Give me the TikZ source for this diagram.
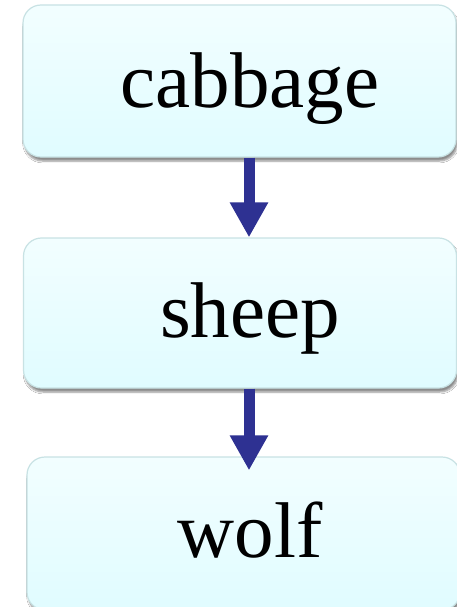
\documentclass[tikz,border=0pt]{standalone}
\usepackage{fontspec}
\setmainfont{Liberation Serif}
\usetikzlibrary{arrows.meta,shadows.blur}
\definecolor{boxtop}{RGB}{242,254,255}
\definecolor{boxbot}{RGB}{224,252,255}
\definecolor{boxline}{RGB}{200,226,228}
\definecolor{arrowblue}{RGB}{46,49,146}
\tikzset{
  box/.style={rectangle, rounded corners=18pt, draw=boxline, line width=1.2pt,
    top color=boxtop, bottom color=boxbot, minimum width=433pt,
    blur shadow={shadow xshift=1.5pt, shadow yshift=-4pt, shadow opacity=45, shadow blur steps=6}},
  word/.style={anchor=base, font=\fontsize{79}{90}\selectfont, inner sep=0pt},
  arr/.style={arrowblue, line width=11pt, -{Triangle[width=36pt,length=35pt]}}
}
\begin{document}
\begin{tikzpicture}[x=1pt,y=-1pt]
\useasboundingbox (0,0) rectangle (457,607);
\clip (0,0) rectangle (457,607);
\fill[white] (0,0) rectangle (457,607);
\node[box, minimum height=152pt] (c) at (239.5,81) {};
\node[box, minimum height=150pt] (s) at (240,313) {};
\node[box, minimum height=153pt] (w) at (243.5,533.5) {};
\node[word] (tc) at (250,107) {cabbage};
\node[word] (ts) at (250,337) {sheep};
\node[word] (tw) at (250,557) {wolf};
\coordinate (ax) at (249,0);
\draw[arr] (c.south -| ax) -- (s.north -| ax);
\draw[arr] (s.south -| ax) -- ([yshift=-14pt]w.north -| ax);
\end{tikzpicture}
\end{document}
